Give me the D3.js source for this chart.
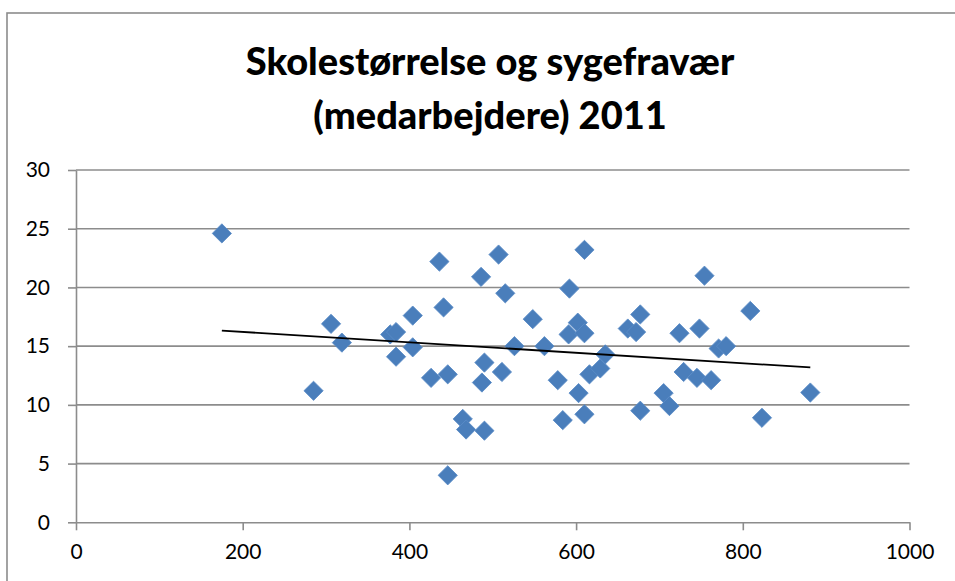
<!DOCTYPE html>
<html>
<meta charset="utf-8">
<style>
body {
  margin: 0;
  background: #fff;
}
svg {
  display: block;
}
text {
  font-family: Lato, "Open Sans", sans-serif;
  fill: #000;
}
.grid line {
  stroke: #8c8c8c;
  stroke-width: 1.6;
}
.axis path,
.axis line {
  stroke: #8c8c8c;
  stroke-width: 1.6;
}
.axis text {
  font-size: 21px;
}
</style>
<body>

<script src="https://d3js.org/d3.v7.min.js"></script>
<script>
// skolestørrelse (x) og sygefravær i % (y)
var skoleStr = [175, 285, 306, 319, 377, 384, 384, 404, 404, 426,
                436, 441, 446, 446, 464, 468, 486, 487, 490, 490,
                507, 511, 515, 526, 548, 562, 578, 584, 591, 592,
                602, 603, 610, 610, 610, 616, 629, 635, 662, 672,
                677, 677, 705, 712, 724, 729, 745, 748, 754, 762,
                771, 780, 809, 823, 881];
var fravaer = [24.6, 11.2, 16.9, 15.3, 16.0, 16.2, 14.1, 17.6, 14.9, 12.3,
               22.2, 18.3, 12.6, 4.0, 8.8, 7.9, 20.9, 11.9, 13.6, 7.8,
               22.8, 12.8, 19.5, 15.0, 17.3, 15.0, 12.1, 8.7, 16.0, 19.9,
               17.0, 11.0, 23.2, 16.1, 9.2, 12.6, 13.1, 14.3, 16.5, 16.2,
               17.7, 9.5, 11.0, 9.9, 16.1, 12.8, 12.3, 16.5, 21.0, 12.1,
               14.8, 15.0, 18.0, 8.9, 11.05];
var xTicks = [0, 200, 400, 600, 800, 1000];
var yTicks = [0, 5, 10, 15, 20, 25, 30];
var titel = ["Skolestørrelse og sygefravær", "(medarbejdere) 2011"];

var W = 955, H = 581;
var margin = {top: 170, right: 45.5, bottom: 58.7, left: 76},
    width = W - margin.left - margin.right,
    height = H - margin.top - margin.bottom;

var svg = d3.select("body").append("svg")
    .attr("width", W)
    .attr("height", H);

// ramme om diagrammet
svg.append("rect")
    .attr("x", 7)
    .attr("y", 13)
    .attr("width", W + 20)
    .attr("height", H + 20)
    .attr("fill", "none")
    .attr("stroke", "#8c8c8c")
    .attr("stroke-width", 1.6);

svg.selectAll(".title")
    .data(titel)
    .enter().append("text")
    .attr("class", "title")
    .attr("x", 490)
    .attr("y", function(d, i) { return 75 + i * 54; })
    .attr("text-anchor", "middle")
    .attr("font-size", "38px")
    .attr("font-weight", 900)
    .text(function(d) { return d; });

var g = svg.append("g")
    .attr("transform", "translate(" + margin.left + "," + margin.top + ")");

var x = d3.scaleLinear().domain([0, 1000]).range([0, width]);
var y = d3.scaleLinear().domain([0, 30]).range([height, 0]);

// vandrette gitterlinjer
g.append("g")
    .attr("class", "grid")
    .selectAll("line")
    .data(yTicks.filter(function(d) { return d > 0; }))
    .enter().append("line")
    .attr("x1", 0)
    .attr("x2", width)
    .attr("y1", function(d) { return y(d); })
    .attr("y2", function(d) { return y(d); });

var yAxis = d3.axisLeft(y).tickValues(yTicks).tickSize(8).tickSizeOuter(0).tickPadding(18);
var xAxis = d3.axisBottom(x).tickValues(xTicks).tickFormat(d3.format("d"))
    .tickSize(8).tickSizeOuter(0).tickPadding(14);

g.append("g")
    .attr("class", "axis")
    .call(yAxis);

g.append("g")
    .attr("class", "axis")
    .attr("transform", "translate(0," + height + ")")
    .call(xAxis);

// punkter
var punkter = skoleStr.map(function(d, i) { return {x: d, y: fravaer[i]}; });
var sym = d3.symbol().type(d3.symbolSquare).size(185);

g.selectAll(".pt")
    .data(punkter)
    .enter().append("path")
    .attr("class", "pt")
    .attr("d", sym)
    .attr("transform", function(d) { return "translate(" + x(d.x) + "," + y(d.y) + ") rotate(45)"; })
    .attr("fill", "#4a7ebb")
    .attr("stroke", "#5a8bc6")
    .attr("stroke-width", 0.8);

// lineær tendenslinje (mindste kvadraters metode)
var mx = d3.mean(skoleStr), my = d3.mean(fravaer);
var sxy = d3.sum(punkter, function(d) { return (d.x - mx) * (d.y - my); });
var sxx = d3.sum(punkter, function(d) { return (d.x - mx) * (d.x - mx); });
var b = sxy / sxx, a = my - b * mx;
var ext = d3.extent(skoleStr);

g.append("line")
    .attr("x1", x(ext[0]))
    .attr("x2", x(ext[1]))
    .attr("y1", y(a + b * ext[0]))
    .attr("y2", y(a + b * ext[1]))
    .attr("stroke", "#000")
    .attr("stroke-width", 1.8);
</script>
</body>
</html>
